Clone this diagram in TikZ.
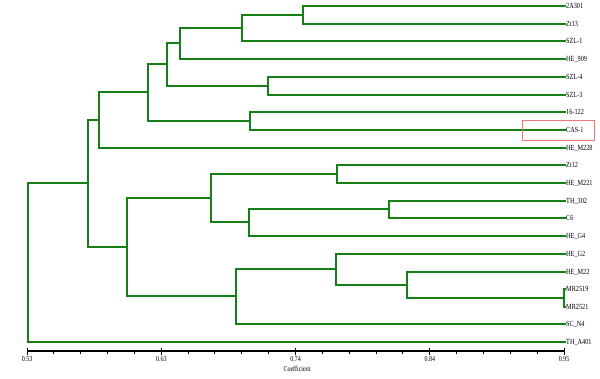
\documentclass[tikz,border=0pt]{standalone}
\usepackage{fontspec}
\setmainfont{Liberation Serif}[FakeStretch=0.8]
\definecolor{treegreen}{RGB}{22,128,22}
\definecolor{boxred}{RGB}{240,120,120}
\begin{document}
\begin{tikzpicture}[x=1pt,y=-1pt,
  branch/.style={draw=treegreen,line width=1.8pt,line cap=rect},
  lab/.style={anchor=west,inner sep=1pt,font=\fontsize{7.8}{8}\selectfont},
  ticklab/.style={anchor=north,inner sep=0.5pt,font=\fontsize{7.5}{8}\selectfont},
  axisline/.style={draw=black,line width=1.2pt}]
\useasboundingbox (0,0) rectangle (600,379);
% leaves
\foreach \i/\y/\t in {1/6/2A301,2/24/Zt13,3/41/SZL-1,4/59/HE\_909,5/77/SZL-4,6/95/SZL-3,7/112/16-122,8/130/CAS-1,9/148/HE\_M228,10/165/Zt12,11/183/HE\_M221,12/201/TH\_302,13/218/C6,14/236/HE\_G4,15/254/HE\_G2,16/272/HE\_M22,17/289/MR2519,18/307/MR2521,19/324/SC\_N4,20/342/TH\_A401}{
  \coordinate (l\i) at (565,\y);
  \node[lab] (t\i) at (l\i) {\t};
}
% internal nodes
\coordinate (n1) at (303,15);
\coordinate (n2) at (242,28);
\coordinate (n3) at (180,43);
\coordinate (n4) at (268,86);
\coordinate (n5) at (167,64);
\coordinate (n6) at (250,121);
\coordinate (n7) at (148,92);
\coordinate (n8) at (99,120);
\coordinate (n10) at (337,174);
\coordinate (n11) at (389,209);
\coordinate (n12) at (249,222);
\coordinate (n13) at (211,198);
\coordinate (n14) at (564,298);
\coordinate (n15) at (407,285);
\coordinate (n16) at (336,269);
\coordinate (n17) at (236,296);
\coordinate (n18) at (127,247);
\coordinate (n9) at (88,183);
\coordinate (root) at (28,262);
% branches
\path[branch] (l1) -| (n1) |- (l2);
\path[branch] (n1) -| (n2) |- (l3);
\path[branch] (n2) -| (n3) |- (l4);
\path[branch] (l5) -| (n4) |- (l6);
\path[branch] (n3) -| (n5) |- (n4);
\path[branch] (l7) -| (n6) |- (l8);
\path[branch] (n5) -| (n7) |- (n6);
\path[branch] (n7) -| (n8) |- (l9);
\path[branch] (l10) -| (n10) |- (l11);
\path[branch] (l12) -| (n11) |- (l13);
\path[branch] (n11) -| (n12) |- (l14);
\path[branch] (n10) -| (n13) |- (n12);
\path[branch] (l17) -| (n14) |- (l18);
\path[branch] (l16) -| (n15) |- (n14);
\path[branch] (l15) -| (n16) |- (n15);
\path[branch] (n16) -| (n17) |- (l19);
\path[branch] (n13) -| (n18) |- (n17);
\path[branch] (n8) -| (n9) |- (n18);
\path[branch] (n9) -| (root) |- (l20);
% highlight box
\draw[boxred,line width=0.9pt] (522,120) rectangle (594,140);
% axis
\coordinate (a0) at (27,351);
\coordinate (a1) at (564,351);
\draw[axisline] (a0) -- (a1);
\foreach \k in {0,...,20}{
  \draw[black,line width=1pt] ({27+537/20*\k},351) -- ++(0,3);
}
\foreach \k/\v in {0/0.53,1/0.63,2/0.74,3/0.84,4/0.95}{
  \draw[black,line width=1pt] ({27+537/4*\k},348) -- ++(0,7);
  \node[ticklab] (x\k) at ({27+537/4*\k},356) {\v};
}
\node[ticklab] (axlab) at (297,365.5) {Coefficient};
\end{tikzpicture}
\end{document}
